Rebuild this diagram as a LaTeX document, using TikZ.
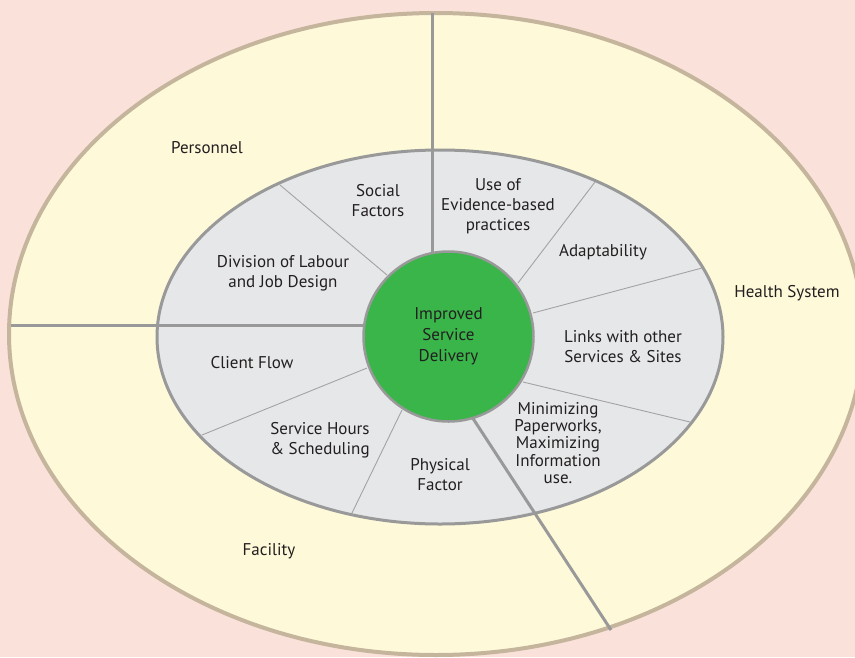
\documentclass[tikz,border=0pt]{standalone}
\usepackage{fontspec}
\setmainfont{PT Sans}
\usetikzlibrary{shapes.geometric}
\definecolor{bgpink}{HTML}{FAE1DA}
\definecolor{outerfill}{HTML}{FDF9D9}
\definecolor{outerline}{HTML}{C4B59C}
\definecolor{innerfill}{HTML}{E6E7E9}
\definecolor{greyline}{HTML}{999999}
\definecolor{thinline}{HTML}{A3A3A3}
\definecolor{hubgreen}{HTML}{39B54A}
\definecolor{txt}{HTML}{231F20}
\tikzset{
  outerell/.style={ellipse, fill=outerfill, draw=outerline, line width=4pt, inner sep=0pt},
  innerell/.style={ellipse, fill=innerfill, draw=greyline, line width=3pt, inner sep=0pt},
  hub/.style={circle, fill=hubgreen, draw=greyline, line width=2.5pt, inner sep=0pt, minimum size=170pt,
    align=center, text=txt, font=\fontsize{17}{21}\selectfont},
  thickdiv/.style={draw=greyline, line width=3pt},
  thindiv/.style={draw=thinline, line width=0.9pt},
  lbl/.style={align=center, text=txt, inner sep=0pt, font=\fontsize{17}{20}\selectfont},
  tightlbl/.style={align=center, text=txt, inner sep=0pt, font=\fontsize{17}{17.3}\selectfont}
}
\begin{document}
\begin{tikzpicture}[x=1pt,y=-1pt]
\useasboundingbox (0,0) rectangle (855,657);
\clip (0,0) rectangle (855,657);
\fill[bgpink] (0,0) rectangle (855,657);

% rings
\node[outerell, minimum width=854pt, minimum height=642pt] (outer) at (436,334) {};
\node[innerell, minimum width=566pt, minimum height=374pt] (inner) at (440,337) {};

% thin dividers (inner ring)
\coordinate (t1o) at (280,185); \coordinate (t1i) at (387,275);
\coordinate (t2o) at (595,182); \coordinate (t2i) at (518,283);
\coordinate (t3o) at (702,268); \coordinate (t3i) at (533,313);
\coordinate (t4o) at (690,422); \coordinate (t4i) at (523,382);
\coordinate (t5o) at (202,435); \coordinate (t5i) at (367,368);
\coordinate (t6o) at (352,513); \coordinate (t6i) at (402,410);
\draw[thindiv] (t1o) -- (t1i);
\draw[thindiv] (t2o) -- (t2i);
\draw[thindiv] (t3o) -- (t3i);
\draw[thindiv] (t4o) -- (t4i);
\draw[thindiv] (t5o) -- (t5i);
\draw[thindiv] (t6o) -- (t6i);

% thick dividers (outer ring)
\coordinate (vtop) at (432,13);   \coordinate (vin) at (432,300);
\coordinate (hleft) at (11,325.7); \coordinate (hin) at (420,325.7);
\coordinate (dout) at (611,630);  \coordinate (din) at (459,397);
\draw[thickdiv] (vtop) -- (vin);
\draw[thickdiv] (hleft) -- (hin);
\draw[thickdiv] (dout) -- (din);

% hub
\node[hub] (hubc) at (448.5,336.5) {Improved\\Service\\Delivery};

% inner labels
\node[lbl] (social) at (378,201) {Social\\Factors};
\node[lbl] (division) at (283,273) {Division of Labour\\and Job Design};
\node[lbl] (evidence) at (498,206) {Use of\\Evidence-based\\practices};
\node[lbl] (adapt) at (603,252) {Adaptability};
\node[lbl] (links) at (623,347) {Links with other\\Services \& Sites};
\node[tightlbl] (paper) at (558,443) {Minimizing\\Paperworks,\\Maximizing\\Information\\use.};
\node[lbl] (physical) at (440,475) {Physical\\Factor};
\node[lbl] (hours) at (320,440) {Service Hours\\\& Scheduling};
\node[lbl] (client) at (252,363) {Client Flow};

% outer labels
\node[lbl] (personnel) at (207,148) {Personnel};
\node[lbl] (health) at (787,293) {Health System};
\node[lbl] (facility) at (269,551) {Facility};
\end{tikzpicture}
\end{document}
